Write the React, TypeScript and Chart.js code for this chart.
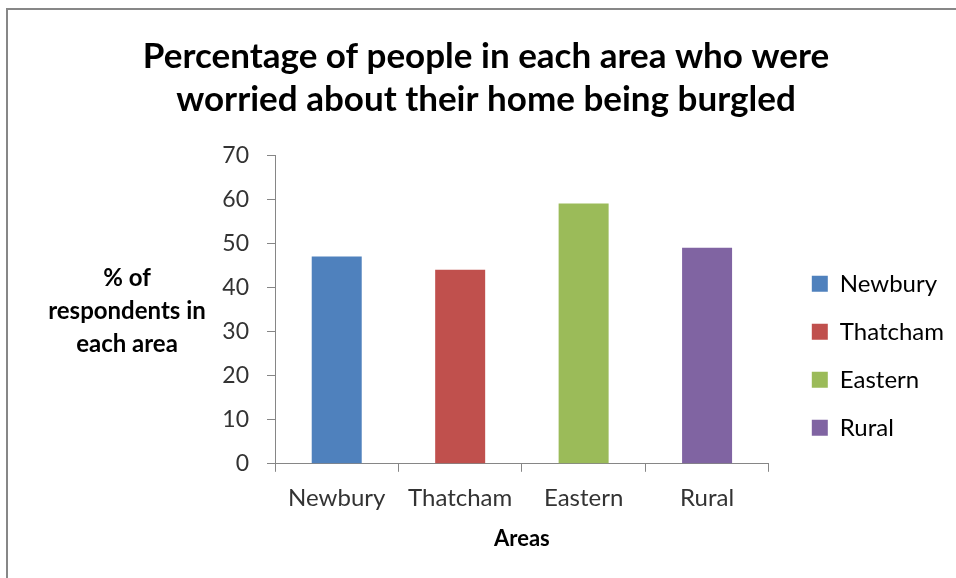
import React, { useEffect, useRef } from "react";
import { Chart, registerables } from "chart.js";

Chart.register(...registerables);

const titleLines = ["Percentage of people in each area who were", "worried about their home being burgled"];
const categories = ["Newbury", "Thatcham", "Eastern", "Rural"];
const values = [47, 44, 59, 49];
const barColors = ["#4F81BD", "#C0504D", "#9BBB59", "#8064A2"];
const yTitleLines = ["% of", "respondents in", "each area"];
const xTitle = "Areas";
const yMin = 0;
const yMax = 70;
const yStep = 10;

const FONT = "Lato, 'Open Sans', 'DejaVu Sans', sans-serif";
const AXIS = "#868686";

const yTitlePlugin = {
  id: "yTitleHorizontal",
  afterDraw(chart: any) {
    const { ctx, chartArea } = chart;
    ctx.save();
    ctx.font = `bold 24px ${FONT}`;
    ctx.fillStyle = "#000";
    ctx.textAlign = "center";
    ctx.textBaseline = "middle";
    const cx = chartArea.left - 148;
    const cy = (chartArea.top + chartArea.bottom) / 2 + 2;
    const lh = 33;
    yTitleLines.forEach((t, i) => {
      ctx.fillText(t, cx, cy + (i - (yTitleLines.length - 1) / 2) * lh);
    });
    ctx.restore();
  },
};

export default function App() {
  const ref = useRef<HTMLCanvasElement>(null);
  useEffect(() => {
    if (!ref.current) return;
    const chart = new Chart(ref.current, {
      type: "bar",
      data: {
        labels: categories,
        datasets: [
          {
            label: "Areas",
            data: values,
            backgroundColor: barColors,
            borderWidth: 0,
            barPercentage: 0.405,
            categoryPercentage: 1,
          },
        ],
      },
      options: {
        responsive: false,
        animation: false,
        devicePixelRatio: 1,
        layout: { padding: { left: 18, right: 2, top: 0, bottom: 26 } },
        plugins: {
          tooltip: { enabled: false },
          title: {
            display: true,
            text: titleLines,
            color: "#000",
            font: { family: FONT, size: 35, weight: "bold", lineHeight: 1.23 },
            padding: { top: 35, bottom: 34 },
          },
          legend: {
            display: true,
            position: "right",
            align: "end",
            fullSize: false,
            maxWidth: 400,
            labels: {
              font: { family: FONT, size: 24 },
              color: "#222",
              boxWidth: 16,
              boxHeight: 16,
              padding: 24,
              generateLabels: () =>
                categories.map((c, i) => ({
                  text: c,
                  fillStyle: barColors[i],
                  strokeStyle: barColors[i],
                  lineWidth: 0,
                  hidden: false,
                  index: i,
                  datasetIndex: 0,
                })),
            },
          },
        },
        scales: {
          x: {
            offset: true,
            grid: {
              display: true,
              offset: true,
              drawOnChartArea: false,
              drawTicks: true,
              tickLength: 8,
              color: AXIS,
            },
            border: { display: true, color: AXIS, width: 1 },
            ticks: { font: { family: FONT, size: 24 }, color: "#333", padding: 12 },
            title: {
              display: true,
              text: xTitle,
              color: "#000",
              font: { family: FONT, size: 22, weight: "bold" },
              padding: { top: 1, bottom: 0 },
            },
          },
          y: {
            min: yMin,
            max: yMax,
            ticks: { stepSize: yStep, font: { family: FONT, size: 23 }, color: "#333", padding: 18 },
            grid: {
              display: true,
              drawOnChartArea: false,
              drawTicks: true,
              tickLength: 8,
              color: AXIS,
            },
            border: { display: true, color: AXIS, width: 1 },
            afterFit: (s: any) => {
              s.width = 257;
            },
          },
          spacer: {
            type: "linear",
            position: "right",
            display: true,
            grid: { display: false },
            border: { display: false },
            ticks: { display: false },
            afterFit: (s: any) => {
              s.width = 19;
            },
          },
        },
      },
      plugins: [yTitlePlugin],
    } as any);
    return () => chart.destroy();
  }, []);
  return (
    <div style={{ position: "absolute", left: 0, top: 0, width: 956, height: 578, overflow: "hidden", background: "#fff" }}>
      <div
        style={{
          position: "absolute",
          left: 6,
          top: 8,
          width: 1000,
          height: 1000,
          borderTop: "2.5px solid #878787",
          borderLeft: "2.5px solid #878787",
        }}
      />
      <canvas ref={ref} width={956} height={578} style={{ position: "absolute", left: 0, top: 0 }} />
    </div>
  );
}
